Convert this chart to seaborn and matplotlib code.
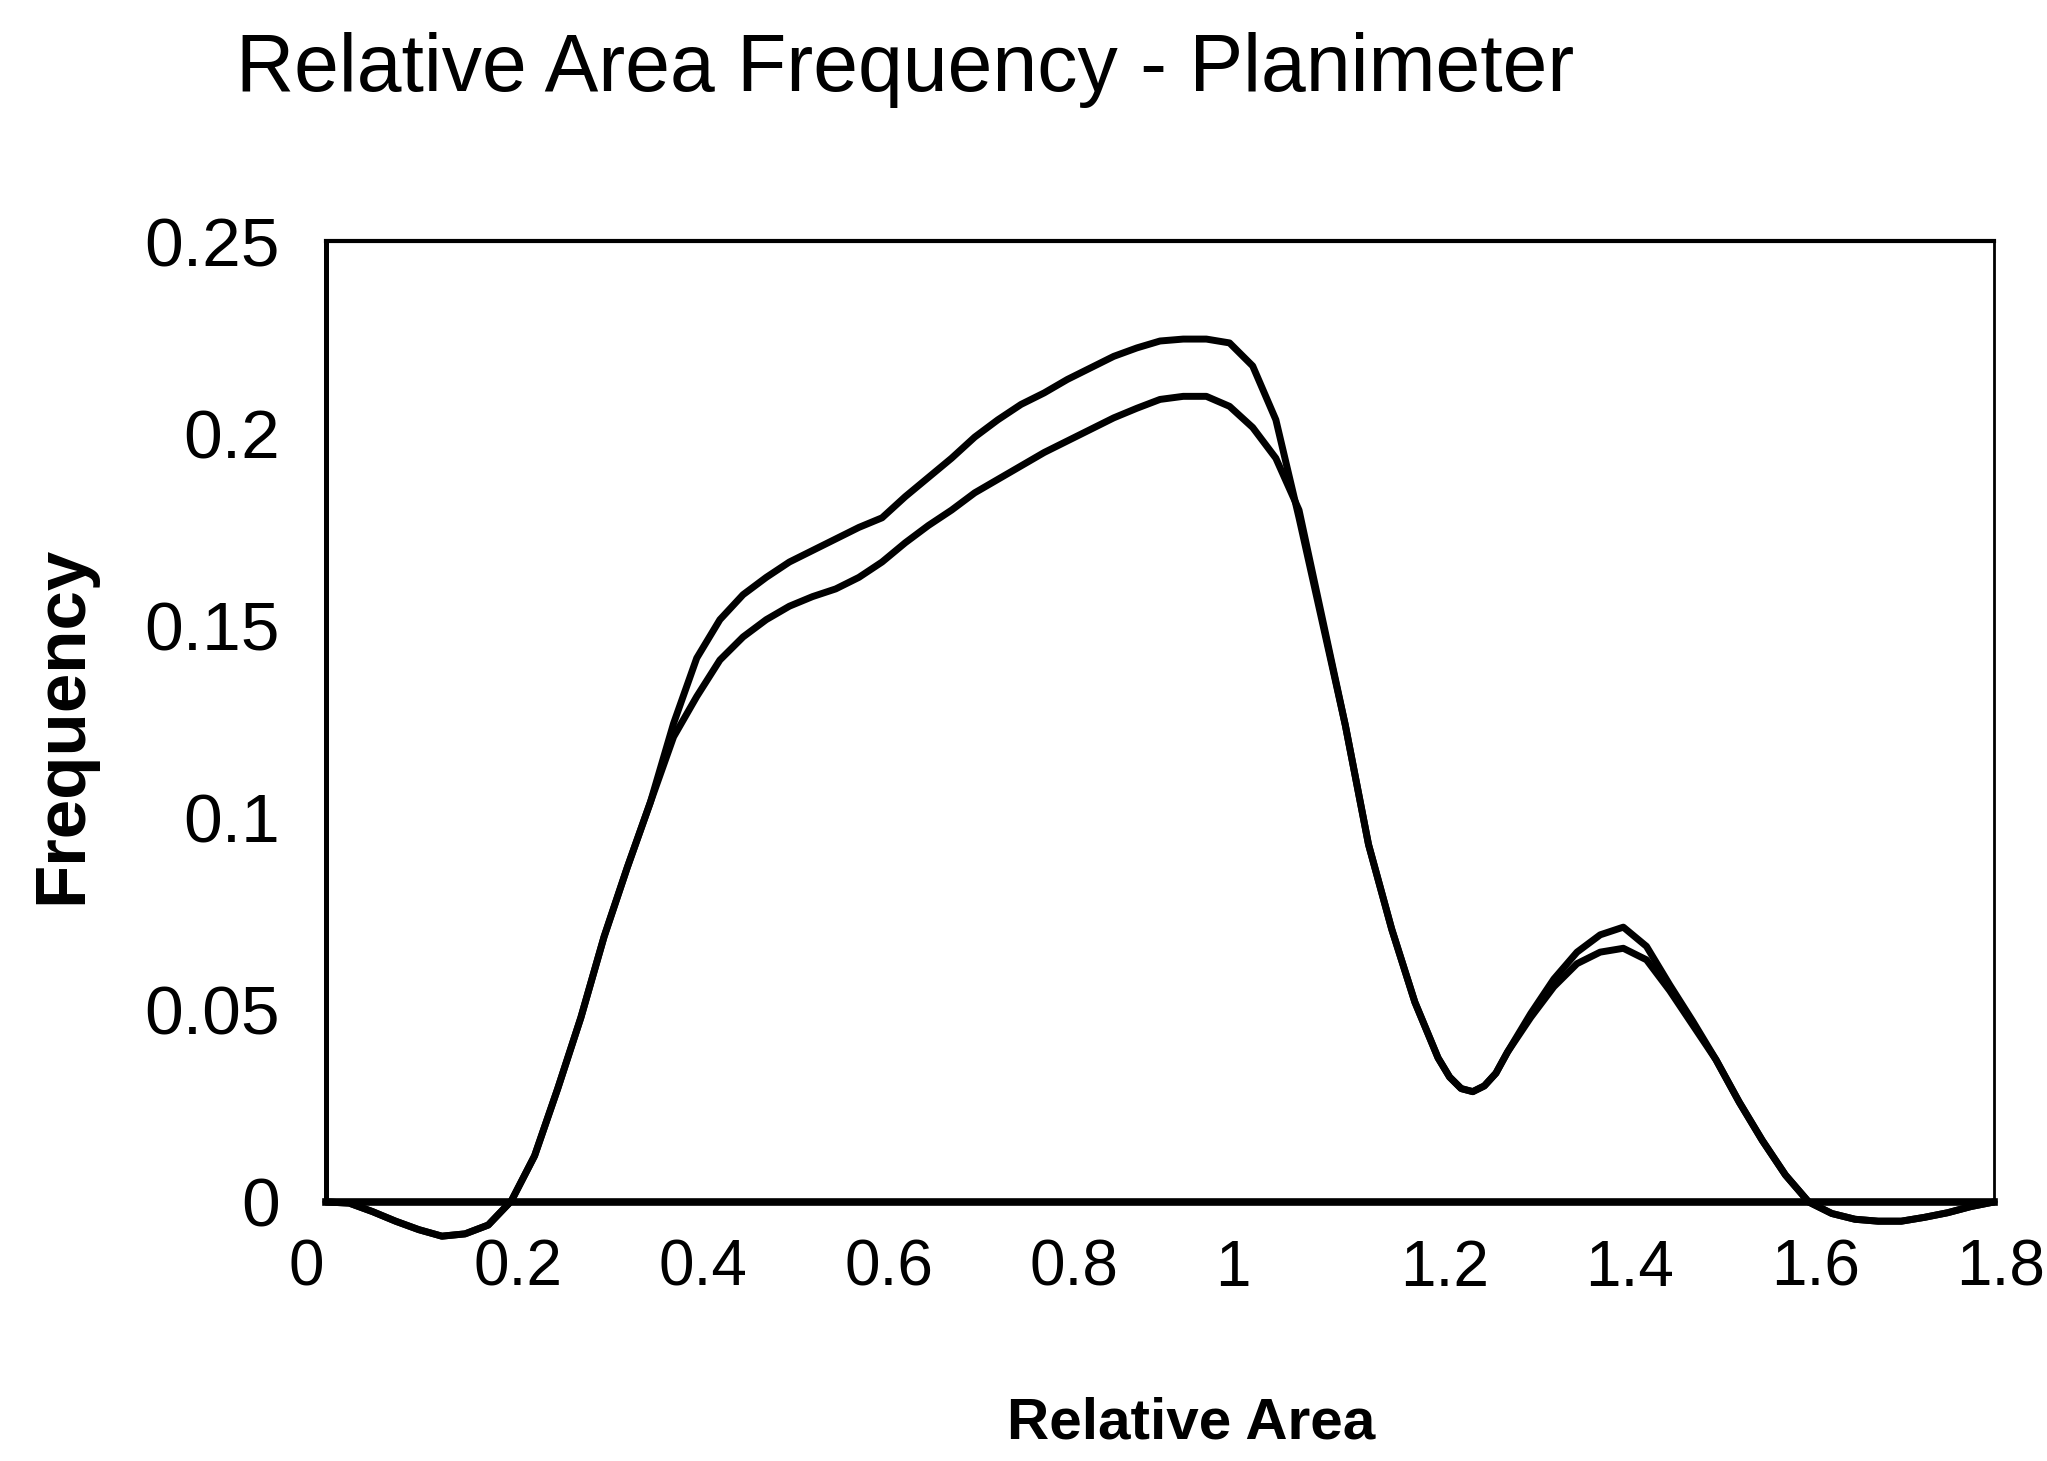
import numpy as np
import pandas as pd
import seaborn as sns
import matplotlib
matplotlib.use("Agg")
import matplotlib.pyplot as plt
from matplotlib.transforms import ScaledTranslation

# Relative area grid and the two frequency curves
relative_area = [0.000, 0.025, 0.050, 0.075, 0.100, 0.125, 0.150, 0.175, 0.200, 0.225,
                 0.250, 0.275, 0.300, 0.325, 0.350, 0.375, 0.400, 0.425, 0.450, 0.475,
                 0.500, 0.525, 0.550, 0.575, 0.600, 0.625, 0.650, 0.675, 0.700, 0.725,
                 0.750, 0.775, 0.800, 0.825, 0.850, 0.875, 0.900, 0.925, 0.950, 0.975,
                 1.000, 1.025, 1.050, 1.075, 1.100, 1.125, 1.150, 1.175, 1.200, 1.2125,
                 1.225, 1.2375, 1.250, 1.2625, 1.275, 1.300, 1.325, 1.350, 1.375, 1.400,
                 1.425, 1.450, 1.475, 1.500, 1.525, 1.550, 1.575, 1.600, 1.625, 1.650,
                 1.675, 1.700, 1.725, 1.750, 1.775, 1.800]

freq_upper = [0.0000, -0.0003, -0.0025, -0.0050, -0.0072, -0.0089, -0.0083, -0.0060, 0.0003, 0.0120,
              0.0295, 0.0480, 0.0690, 0.0870, 0.1040, 0.1245, 0.1415, 0.1515, 0.1580, 0.1625,
              0.1665, 0.1695, 0.1725, 0.1755, 0.1780, 0.1835, 0.1885, 0.1935, 0.1990, 0.2035,
              0.2075, 0.2105, 0.2140, 0.2170, 0.2200, 0.2222, 0.2240, 0.2245, 0.2245, 0.2235,
              0.2175, 0.2035, 0.1780, 0.1510, 0.1240, 0.0930, 0.0710, 0.0520, 0.0375, 0.0325,
              0.0295, 0.0287, 0.0302, 0.0335, 0.0390, 0.0490, 0.0580, 0.0650, 0.0695, 0.0715,
              0.0665, 0.0565, 0.0470, 0.0370, 0.0260, 0.0160, 0.0070, 0.0000, -0.0030, -0.0045,
              -0.0050, -0.0050, -0.0040, -0.0028, -0.0012, 0.0000]

freq_lower = [0.0000, -0.0003, -0.0025, -0.0050, -0.0072, -0.0089, -0.0083, -0.0060, 0.0003, 0.0120,
              0.0295, 0.0480, 0.0690, 0.0870, 0.1040, 0.1210, 0.1315, 0.1410, 0.1470, 0.1515,
              0.1550, 0.1575, 0.1595, 0.1625, 0.1665, 0.1715, 0.1760, 0.1800, 0.1845, 0.1880,
              0.1915, 0.1950, 0.1980, 0.2010, 0.2040, 0.2065, 0.2088, 0.2096, 0.2096, 0.2070,
              0.2015, 0.1935, 0.1800, 0.1520, 0.1240, 0.0930, 0.0710, 0.0520, 0.0375, 0.0325,
              0.0295, 0.0287, 0.0302, 0.0335, 0.0390, 0.0480, 0.0560, 0.0620, 0.0650, 0.0660,
              0.0630, 0.0550, 0.0460, 0.0370, 0.0260, 0.0160, 0.0070, 0.0000, -0.0030, -0.0045,
              -0.0050, -0.0050, -0.0040, -0.0028, -0.0012, 0.0000]

x_ticks = [0, 0.2, 0.4, 0.6, 0.8, 1, 1.2, 1.4, 1.6, 1.8]
x_tick_labels = ["0", "0.2", "0.4", "0.6", "0.8", "1", "1.2", "1.4", "1.6", "1.8"]
y_ticks = [0, 0.05, 0.1, 0.15, 0.2, 0.25]
y_tick_labels = ["0", "0.05", "0.1", "0.15", "0.2", "0.25"]

sns.set_theme(style="white")
plt.rcParams["font.family"] = ["Liberation Sans", "DejaVu Sans"]

fig = plt.figure(figsize=(20.47, 14.61), dpi=100)
ax = fig.add_axes([0.1593, 0.1773, 0.9741 - 0.1593, 0.835 - 0.1773])

df_upper = pd.DataFrame({"Relative Area": relative_area, "Frequency": freq_upper})
df_lower = pd.DataFrame({"Relative Area": relative_area, "Frequency": freq_lower})

for df in (df_upper, df_lower):
    sns.lineplot(data=df, x="Relative Area", y="Frequency", ax=ax,
                 color="black", linewidth=5.0, estimator=None, sort=False)

for line in ax.lines:
    line.set_clip_on(False)
    line.set_solid_joinstyle("round")
    line.set_solid_capstyle("round")

ax.set_xlim(0, 1.8)
ax.set_ylim(0, 0.25)
ax.set_xticks(x_ticks)
ax.set_xticklabels(x_tick_labels)
ax.set_yticks(y_ticks)
ax.set_yticklabels(y_tick_labels)
ax.set_xlabel("")
ax.set_ylabel("")

ax.tick_params(axis="x", direction="inout", length=27, width=2.2, color="black",
               pad=13, labelsize=46, labelcolor="black")
ax.tick_params(axis="y", direction="inout", length=29, width=2.2, color="black",
               pad=19, labelsize=50, labelcolor="black")

# x tick labels start a fixed distance left of their tick
shift = ScaledTranslation(-0.38, 0, fig.dpi_scale_trans)
for tick in ax.xaxis.get_major_ticks():
    tick.label1.set_horizontalalignment("left")
    tick.label1.set_transform(tick.label1.get_transform() + shift)

for side, lw in (("left", 3.6), ("bottom", 5.5), ("top", 3.0), ("right", 2.0)):
    ax.spines[side].set_visible(True)
    ax.spines[side].set_color("black")
    ax.spines[side].set_linewidth(lw)

fig.text(0.1153, 0.9377, "Relative Area Frequency - Planimeter",
         fontsize=58, ha="left", va="baseline", color="black")
fig.text(0.582, 0.026, "Relative Area", fontsize=42, fontweight="bold",
         ha="center", va="center", color="black")
fig.text(0.031, 0.504, "Frequency", fontsize=51, fontweight="bold",
         rotation=90, ha="center", va="center", color="black")

fig.savefig("out.png", dpi=100, facecolor="white")
